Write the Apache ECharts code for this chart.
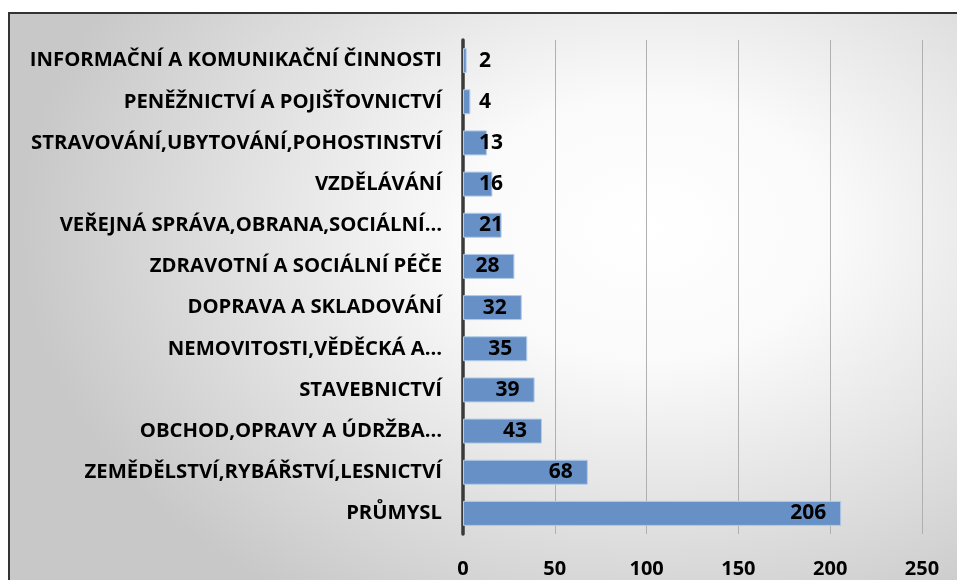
<!DOCTYPE html>
<html>
<head>
<meta charset="utf-8">
<script src="https://cdn.jsdelivr.net/npm/echarts@6/dist/echarts.min.js"></script>
<style>
  html, body { margin: 0; padding: 0; background: #fff; }
  .frame {
    position: absolute; left: 8px; top: 12px; width: 970px; height: 600px;
    border: 2px solid #333; box-sizing: border-box;
    background: radial-gradient(ellipse 65% 75% at 66% 36%, #ffffff 0%, #fafafa 30%, #c8c8c8 100%);
  }
  #main { position: absolute; left: 0; top: 0; width: 957px; height: 580px; }
</style>
</head>
<body>
<div class="frame"></div>
<div id="main"></div>
<script>
  // categories bottom -> top (as the y axis draws them)
  var categories = [
    'PRŮMYSL',
    'ZEMĚDĚLSTVÍ,RYBÁŘSTVÍ,LESNICTVÍ',
    'OBCHOD,OPRAVY A ÚDRŽBA…',
    'STAVEBNICTVÍ',
    'NEMOVITOSTI,VĚDĚCKÁ A…',
    'DOPRAVA A SKLADOVÁNÍ',
    'ZDRAVOTNÍ A SOCIÁLNÍ PÉČE',
    'VEŘEJNÁ SPRÁVA,OBRANA,SOCIÁLNÍ…',
    'VZDĚLÁVÁNÍ',
    'STRAVOVÁNÍ,UBYTOVÁNÍ,POHOSTINSTVÍ',
    'PENĚŽNICTVÍ A POJIŠŤOVNICTVÍ',
    'INFORMAČNÍ A KOMUNIKAČNÍ ČINNOSTI'
  ];
  var values = [206, 68, 43, 39, 35, 32, 28, 21, 16, 13, 4, 2];
  var tickLabels = ['0', '50', '100', '150', '200', '250'];

  var font = 'Open Sans';

  var barData = values.map(function (v) {
    // short bars: label sits a fixed distance right of the axis
    if (v <= 21) {
      return { value: v, label: { position: 'insideLeft', distance: 16 } };
    }
    return v;
  });

  var myChart = echarts.init(document.getElementById('main'));
  var option = {
    backgroundColor: 'transparent',
    animation: false,
    grid: {
      left: 463,
      right: 35,
      top: 40,
      bottom: 46
    },
    xAxis: {
      type: 'value',
      min: 0,
      max: 250,
      interval: 50,
      axisLine: { show: false },
      axisTick: { show: false },
      axisLabel: {
        margin: 25,
        color: '#000',
        fontFamily: font,
        fontWeight: 'bold',
        fontSize: 20,
        formatter: function (val) { return tickLabels[val / 50]; }
      },
      splitLine: { lineStyle: { color: '#b0b0b0', width: 1 } }
    },
    yAxis: {
      type: 'category',
      data: categories,
      axisLine: { show: true, lineStyle: { color: '#3a3a3a', width: 3.5 } },
      axisTick: { show: false },
      axisLabel: {
        margin: 21,
        color: '#000',
        fontFamily: font,
        fontWeight: 'bold',
        fontSize: 20.3
      }
    },
    series: [
      {
        type: 'bar',
        data: barData,
        barWidth: 25,
        itemStyle: {
          color: '#6791c6',
          borderColor: '#b3cbe8',
          borderWidth: 1
        },
        label: {
          show: true,
          position: 'insideRight',
          distance: 15,
          color: '#000',
          fontFamily: font,
          fontWeight: 'bold',
          fontSize: 21
        }
      }
    ]
  };
  myChart.setOption(option);
</script>
</body>
</html>
